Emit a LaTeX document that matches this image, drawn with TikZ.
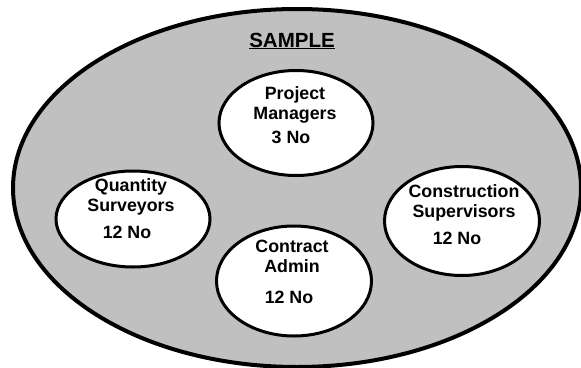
\documentclass[tikz,border=0pt]{standalone}
\usepackage{fontspec}
\setmainfont{Liberation Sans}
\usetikzlibrary{shapes.geometric}
\definecolor{panelgray}{HTML}{C0C0C0}
\tikzset{
  group/.style={ellipse, draw=black, line width=3pt, fill=white, inner sep=0pt},
  label/.style={font=\fontsize{17.8}{19.5}\selectfont\bfseries, anchor=base, align=center, inner sep=0pt},
}
\begin{document}
\begin{tikzpicture}[x=1pt, y=-1pt]
  \useasboundingbox (0,0) rectangle (581,367);
  \fill[white] (0,0) rectangle (581,367);
  % outer sample population
  \node[ellipse, draw=black, line width=4pt, fill=panelgray, inner sep=0pt,
        minimum width=568pt, minimum height=358pt] (sample) at (297,188) {};
  \node[font=\fontsize{20.5}{24}\selectfont\bfseries, anchor=base, inner sep=0pt] (title) at (292,47) {\underline{SAMPLE}};
  % sub-groups
  \node[group, minimum width=154pt, minimum height=105pt] (pm) at (296,123) {};
  \node[group, minimum width=154pt, minimum height=96pt] (qs) at (133,219) {};
  \node[group, minimum width=155pt, minimum height=109pt] (cs) at (462,221) {};
  \node[group, minimum width=155pt, minimum height=110pt] (ca) at (294,281) {};
  % labels (base anchor sits on the last line)
  \node[label] (pmt) at (295,119) {Project\\Managers};
  \node[label] (pmn) at (291,143) {3 No};
  \node[label] (qst) at (131,211) {Quantity\\Surveyors};
  \node[label] (qsn) at (127,238) {12 No};
  \node[label] (cst) at (464,217) {Construction\\Supervisors};
  \node[label] (csn) at (457,244) {12 No};
  \node[label] (cat) at (292,272) {Contract\\Admin};
  \node[label] (can) at (289,303) {12 No};
\end{tikzpicture}
\end{document}
